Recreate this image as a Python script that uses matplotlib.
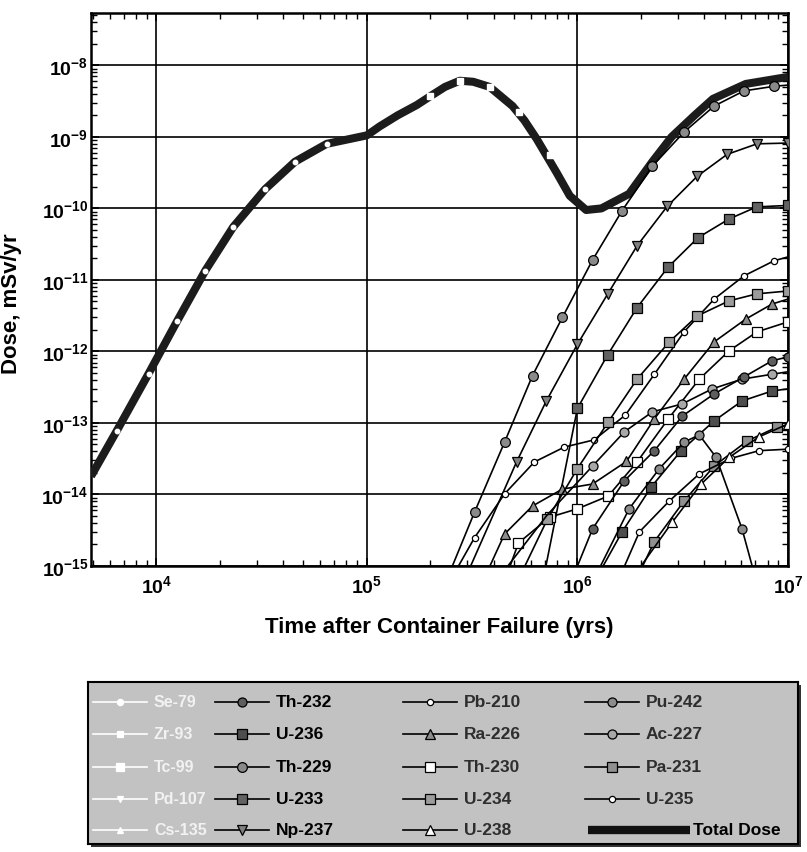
import numpy as np
import matplotlib
matplotlib.use('Agg')
import matplotlib.pyplot as plt
from matplotlib.lines import Line2D
from matplotlib.patches import Rectangle
from matplotlib.ticker import FuncFormatter, LogLocator, NullFormatter

plt.rcParams['font.family'] = ['Liberation Sans', 'DejaVu Sans']
plt.rcParams['font.weight'] = 'bold'
plt.rcParams['mathtext.fontset'] = 'custom'
plt.rcParams['mathtext.rm'] = 'Liberation Sans:bold'
plt.rcParams['mathtext.bf'] = 'Liberation Sans:bold'
plt.rcParams['mathtext.it'] = 'Liberation Sans:bold'

###################
# DATOS (anos, mSv/yr)
###################
t_total = [4.9e3, 6.5e3, 9.2e3, 1.26e4, 1.71e4, 2.32e4, 3.29e4, 4.56e4, 6.45e4, 1.0e5,
           1.15e5, 1.4e5, 1.73e5, 2.0e5, 2.35e5, 2.76e5, 3.2e5, 3.83e5, 4.92e5, 5.6e5,
           6.4e5, 7.95e5, 9.2e5, 1.1e6, 1.3e6, 1.76e6, 2.27e6, 2.8e6, 3.6e6, 4.4e6,
           6.3e6, 1.0e7]
d_total = [1.8e-14, 7.8e-14, 4.9e-13, 2.7e-12, 1.35e-11, 5.5e-11, 1.86e-10, 4.5e-10, 8.0e-10, 1.05e-9,
           1.4e-9, 2.0e-9, 2.8e-9, 3.7e-9, 5.0e-9, 6.1e-9, 5.9e-9, 5.0e-9, 2.7e-9, 1.7e-9,
           9.4e-10, 3.2e-10, 1.5e-10, 9.5e-11, 1.0e-10, 1.6e-10, 4.5e-10, 1.0e-9, 2.0e-9, 3.4e-9,
           5.5e-9, 6.9e-9]

# productos de fision (lineas blancas)
t_se79 = [4.9e3, 6.5e3, 9.2e3, 1.26e4, 1.71e4, 2.32e4, 3.29e4, 4.56e4, 6.45e4, 1.0e5]
d_se79 = [1.8e-14, 7.8e-14, 4.9e-13, 2.7e-12, 1.35e-11, 5.5e-11, 1.86e-10, 4.5e-10, 8.0e-10, 1.05e-9]
t_tc99 = [2.0e5, 2.76e5, 3.83e5, 5.3e5, 7.4e5]
d_tc99 = [3.7e-9, 6.1e-9, 5.0e-9, 2.2e-9, 5.5e-10]

# actinidos
t_th229 = [2.47e5, 3.25e5, 4.51e5, 6.12e5, 8.49e5, 1.18e6, 1.63e6, 2.27e6, 3.21e6, 4.46e6, 6.18e6, 8.58e6, 1.0e7]
d_th229 = [8e-16, 5.7e-15, 5.4e-14, 4.6e-13, 3.0e-12, 1.9e-11, 9.3e-11, 3.9e-10, 1.17e-9, 2.7e-9, 4.4e-9, 5.1e-9, 5.3e-9]
t_np237 = [3.01e5, 5.14e5, 7.1e5, 1.0e6, 1.39e6, 1.92e6, 2.67e6, 3.7e6, 5.14e6, 7.13e6, 1.0e7]
d_np237 = [8e-16, 2.85e-14, 2.0e-13, 1.26e-12, 6.3e-12, 3.0e-11, 1.07e-10, 2.8e-10, 5.7e-10, 8.0e-10, 8.2e-10]
t_u233 = [6.98e5, 1.0e6, 1.39e6, 1.92e6, 2.69e6, 3.74e6, 5.24e6, 7.1e6, 1.0e7]
d_u233 = [8e-16, 1.6e-13, 8.9e-13, 4.1e-12, 1.5e-11, 3.9e-11, 7.1e-11, 1.05e-10, 1.1e-10]
t_pb210 = [2.61e5, 3.25e5, 4.51e5, 6.25e5, 8.67e5, 1.2e6, 1.69e6, 2.32e6, 3.21e6, 4.46e6, 6.18e6, 8.58e6, 1.0e7]
d_pb210 = [8e-16, 2.5e-15, 1.02e-14, 2.85e-14, 4.6e-14, 5.8e-14, 1.29e-13, 4.8e-13, 1.88e-12, 5.4e-12, 1.14e-11, 1.85e-11, 2.1e-11]
t_ra226 = [3.71e5, 4.51e5, 6.12e5, 8.49e5, 1.18e6, 1.71e6, 2.32e6, 3.21e6, 4.46e6, 6.32e6, 8.4e6, 1.0e7]
d_ra226 = [8e-16, 2.8e-15, 6.9e-15, 1.19e-14, 1.4e-14, 2.9e-14, 1.14e-13, 4.1e-13, 1.36e-12, 2.85e-12, 4.6e-12, 5.4e-12]
t_th230 = [4.66e5, 5.25e5, 7.37e5, 1.0e6, 1.4e6, 1.92e6, 2.7e6, 3.79e6, 5.25e6, 7.13e6, 1.0e7]
d_th230 = [8e-16, 2.1e-15, 4.8e-15, 6.3e-15, 9.5e-15, 2.85e-14, 1.14e-13, 4.1e-13, 1.02e-12, 1.88e-12, 2.59e-12]
t_u234 = [5.43e5, 7.2e5, 1.0e6, 1.4e6, 1.92e6, 2.73e6, 3.71e6, 5.25e6, 7.13e6, 1.0e7]
d_u234 = [8e-16, 4.5e-15, 2.3e-14, 1.03e-13, 4.1e-13, 1.36e-12, 3.14e-12, 5.1e-12, 6.4e-12, 7.0e-12]
t_ac227 = [4.41e5, 7.2e5, 1.18e6, 1.67e6, 2.27e6, 3.15e6, 4.37e6, 6.05e6, 8.4e6, 1.0e7]
d_ac227 = [8e-16, 5.2e-15, 2.5e-14, 7.5e-14, 1.43e-13, 1.85e-13, 3.0e-13, 4.1e-13, 4.8e-13, 5.2e-13]
t_pa231 = [1.97e6, 2.32e6, 3.21e6, 4.46e6, 6.4e6, 8.9e6, 1.0e7]
d_pa231 = [8e-16, 2.2e-15, 8.1e-15, 2.5e-14, 5.6e-14, 8.8e-14, 9.4e-14]
t_th232 = [9.7e5, 1.18e6, 1.67e6, 2.32e6, 3.15e6, 4.46e6, 6.18e6, 8.4e6, 1.0e7]
d_th232 = [8e-16, 3.3e-15, 1.55e-14, 4.1e-14, 1.25e-13, 2.55e-13, 4.4e-13, 7.4e-13, 8.4e-13]
t_u236 = [1.27e6, 1.63e6, 2.24e6, 3.11e6, 4.46e6, 6.05e6, 8.4e6, 1.0e7]
d_u236 = [8e-16, 3.0e-15, 1.27e-14, 4.1e-14, 1.07e-13, 2.03e-13, 2.8e-13, 3.0e-13]
t_u235 = [1.62e6, 1.97e6, 2.73e6, 3.79e6, 5.37e6, 7.29e6, 1.0e7]
d_u235 = [8e-16, 3.0e-15, 8.1e-15, 1.94e-14, 3.2e-14, 4.1e-14, 4.3e-14]
t_u238 = [1.9e6, 2.82e6, 3.87e6, 5.25e6, 7.29e6, 1.0e7]
d_u238 = [8e-16, 4.1e-15, 1.4e-14, 3.3e-14, 6.4e-14, 9.7e-14]
t_pu242 = [1.24e6, 1.76e6, 2.45e6, 3.21e6, 3.79e6, 4.56e6, 6.05e6, 6.9e6]
d_pu242 = [8e-16, 6.3e-15, 2.3e-14, 5.4e-14, 6.8e-14, 3.3e-14, 3.3e-15, 8e-16]

# estilo por nuclido: marcador, relleno, tamano
STYLE = {
  'Se-79':  ('o', 'white', 4.5),
  'Zr-93':  ('s', 'white', 4.5),
  'Tc-99':  ('s', 'white', 6.0),
  'Pd-107': ('v', 'white', 5.0),
  'Cs-135': ('^', 'white', 5.0),
  'Th-232': ('o', '#5e5e5e', 6.5),
  'U-236':  ('s', '#4e4e4e', 6.5),
  'Th-229': ('o', '#8a8a8a', 7.0),
  'U-233':  ('s', '#626262', 7.0),
  'Np-237': ('v', '#808080', 7.0),
  'Pb-210': ('o', 'white', 4.5),
  'Ra-226': ('^', '#8c8c8c', 6.5),
  'Th-230': ('s', 'white', 7.0),
  'U-234':  ('s', '#9c9c9c', 7.0),
  'U-238':  ('^', 'white', 7.0),
  'Pu-242': ('o', '#8c8c8c', 6.5),
  'Ac-227': ('o', '#a8a8a8', 6.5),
  'Pa-231': ('s', '#909090', 6.5),
  'U-235':  ('o', 'white', 4.5),
}

# (nombre, tiempos, dosis, indices con marcador)
series = [
  ('Th-229', t_th229, d_th229, slice(1, -1)),
  ('Np-237', t_np237, d_np237, slice(1, None)),
  ('U-233', t_u233, d_u233, slice(1, None)),
  ('Pb-210', t_pb210, d_pb210, slice(1, -1)),
  ('Ra-226', t_ra226, d_ra226, slice(1, -1)),
  ('Th-230', t_th230, d_th230, slice(1, None)),
  ('U-234', t_u234, d_u234, slice(1, None)),
  ('Ac-227', t_ac227, d_ac227, slice(2, -1)),
  ('Pa-231', t_pa231, d_pa231, slice(1, -1)),
  ('Th-232', t_th232, d_th232, slice(1, None)),
  ('U-236', t_u236, d_u236, slice(1, -1)),
  ('U-235', t_u235, d_u235, slice(1, None)),
  ('U-238', t_u238, d_u238, slice(1, None)),
  ('Pu-242', t_pu242, d_pu242, slice(1, -1)),
]

###################
# FIGURA
###################
fig = plt.figure(figsize=(8.07, 8.53), dpi=100)
ax = fig.add_axes([91/807, 286/853, 697/807, 553/853])

# dosis total (banda gruesa)
ax.plot(t_total, d_total, color='#1c1c1c', lw=5.8, solid_capstyle='butt', zorder=3)

# productos de fision: blancos, solo visibles sobre la total
ax.plot(t_se79, d_se79, color='white', lw=0, marker='o', ms=3.2, mfc='white', mec='white',
        markevery=slice(1, -1), zorder=4)
ax.plot(t_tc99, d_tc99, color='white', lw=0, marker='s', ms=4.0, mfc='white', mec='white', zorder=4)

for name, t, d, mev in series:
  mk, fc, ms = STYLE[name]
  ax.plot(t, d, color='black', lw=1.2, marker=mk, ms=ms, mfc=fc, mec='black', mew=0.9,
          markevery=mev, zorder=5)

ax.set_xscale('log')
ax.set_yscale('log')
ax.set_xlim(4.9e3, 1e7)
ax.set_ylim(1e-15, 5.4e-8)

fmt = FuncFormatter(lambda v, p: r'$\mathbf{10^{%d}}$' % int(round(np.log10(v))))
ax.xaxis.set_major_locator(LogLocator(base=10, numticks=20))
ax.yaxis.set_major_locator(LogLocator(base=10, numticks=20))
ax.xaxis.set_minor_locator(LogLocator(base=10, subs=np.arange(2, 10), numticks=20))
ax.yaxis.set_minor_locator(LogLocator(base=10, subs=np.arange(2, 10), numticks=20))
ax.xaxis.set_major_formatter(fmt)
ax.yaxis.set_major_formatter(fmt)
ax.xaxis.set_minor_formatter(NullFormatter())
ax.yaxis.set_minor_formatter(NullFormatter())
ax.tick_params(which='both', direction='in', top=True, right=True, labelsize=14)
ax.tick_params(which='major', length=6, width=1.2)
ax.tick_params(which='minor', length=4, width=1.0)
ax.tick_params(axis='x', pad=6)
ax.tick_params(axis='y', pad=2)
ax.grid(True, which='major', color='black', lw=1.2)
for sp in ax.spines.values():
  sp.set_linewidth(1.8)

ax.set_xlabel('Time after Container Failure (yrs)', fontsize=16, fontweight='bold', labelpad=14)
ax.set_ylabel('Dose, mSv/yr', fontsize=16, fontweight='bold')
ax.yaxis.set_label_coords(-0.099, 0.476)

###################
# LEYENDA (manual, 4 columnas x 5 filas)
###################
box = [88/807, 8/853, 710/807, 162/853]
# sombra detras del cuadro
fig.patches.append(Rectangle((box[0] + 3/807, box[1] - 3/853), box[2], box[3],
                             transform=fig.transFigure, facecolor='#333333', edgecolor='none', zorder=-5))
lax = fig.add_axes(box)
lax.set_facecolor('#c2c2c2')
lax.set_xlim(0, 710)
lax.set_ylim(162, 0)
lax.set_xticks([])
lax.set_yticks([])
for sp in lax.spines.values():
  sp.set_linewidth(1.5)

cols = [
  ['Se-79', 'Zr-93', 'Tc-99', 'Pd-107', 'Cs-135'],
  ['Th-232', 'U-236', 'Th-229', 'U-233', 'Np-237'],
  ['Pb-210', 'Ra-226', 'Th-230', 'U-234', 'U-238'],
  ['Pu-242', 'Ac-227', 'Pa-231', 'U-235', 'Total Dose'],
]
col_x = [5, 127, 315, 497]
row_y = [20, 52, 85, 117, 148]
txt_color = ['#f2f2f2', 'black', '#2e2e2e', '#2e2e2e']
txt_size = [11.5, 12.5, 12.5, 12.5]
hlen = 54

for c, names in enumerate(cols):
  for r, name in enumerate(names):
    x0 = col_x[c]
    y0 = row_y[r]
    if name == 'Total Dose':
      lax.add_line(Line2D([x0 + 3, x0 + 105], [y0, y0], color='#111111', lw=6, solid_capstyle='butt'))
      lax.text(x0 + 108, y0, name, fontsize=12.5, fontweight='bold', color='black', va='center')
      continue
    mk, fc, ms = STYLE[name]
    lc = 'white' if c == 0 else 'black'
    mc = 'white' if c == 0 else 'black'
    lax.add_line(Line2D([x0, x0 + hlen], [y0, y0], color=lc, lw=1.2))
    lax.add_line(Line2D([x0 + hlen / 2], [y0], marker=mk, ms=ms, mfc=fc, mec=mc, mew=0.9, lw=0))
    lax.text(x0 + hlen + 7, y0, name, fontsize=txt_size[c], fontweight='bold', color=txt_color[c], va='center')

fig.savefig('out.png', dpi=100)
